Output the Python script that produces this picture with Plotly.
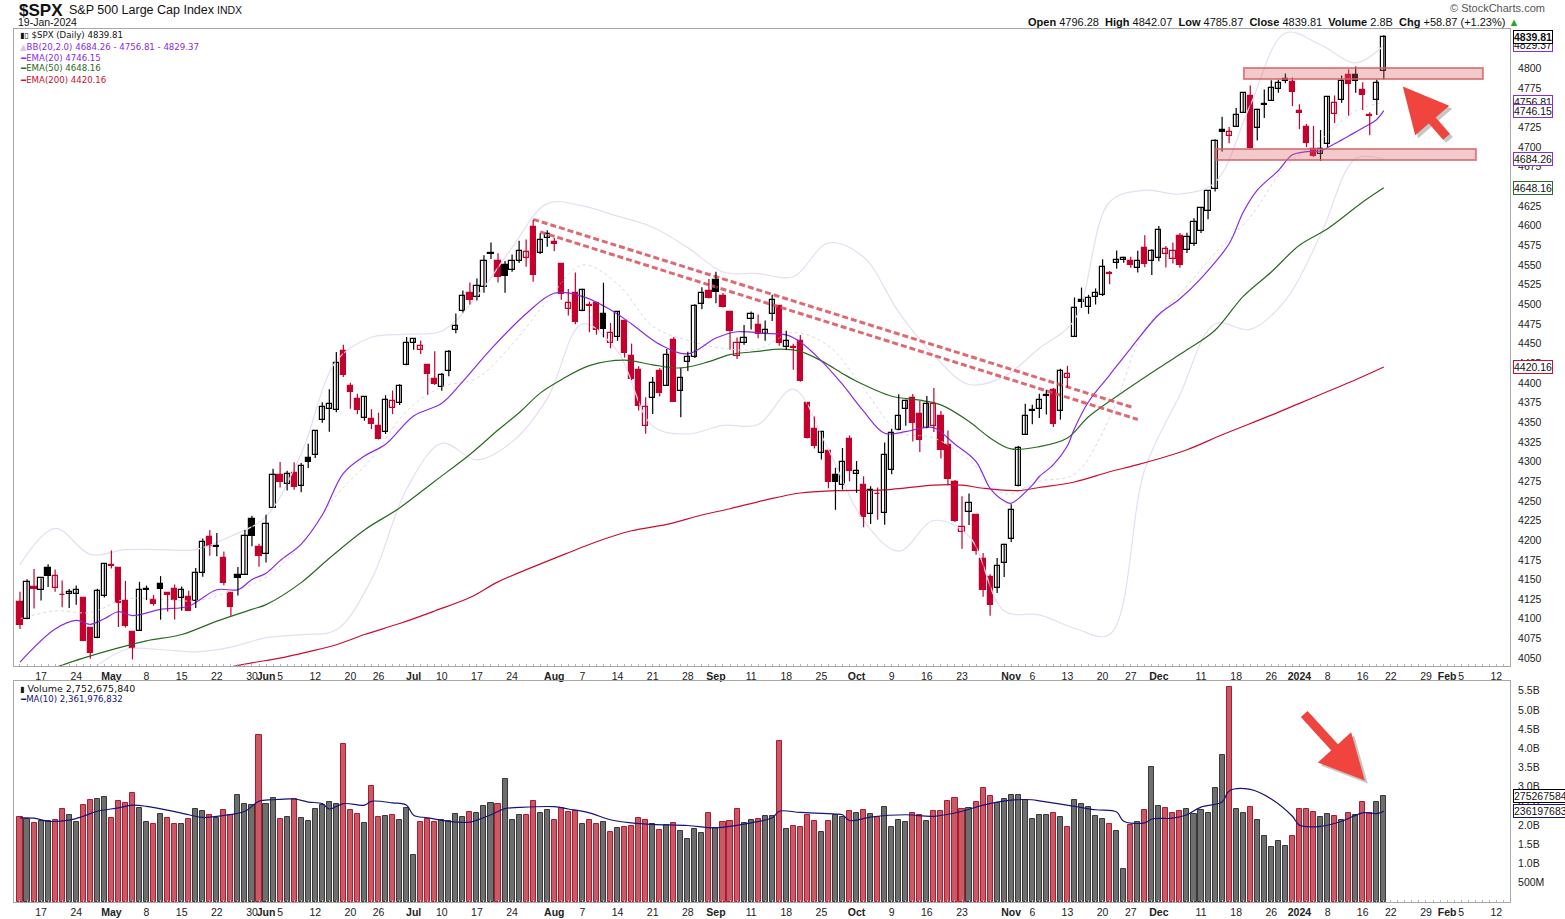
## $SPX daily candles with BB / EMAs and a volume panel (StockCharts look)
import numpy as np
import pandas as pd
import plotly.graph_objects as go

# Trading days from 12-Apr-2023, the axis runs on past the last bar
holidays = ["2023-05-29", "2023-06-19", "2023-07-04", "2023-09-04",
            "2023-11-23", "2023-12-25", "2024-01-01", "2024-01-15"]
tdays = pd.bdate_range("2023-04-12", "2024-02-16")
tdays = tdays[~tdays.isin(pd.to_datetime(holidays))]

prev_close0 = 4108.94  # close of 11-Apr-2023, only used for the colour of the first bar

opens = [
    # Apr
    4121.72, 4100.04, 4140.11, 4137.17, 4164.26, 4139.33, 4130.48, 4132.14, 4132.07, 4126.43, 4087.78, 4075.29, 4129.63,
    # May
    4166.79, 4164.10, 4122.25, 4082.61, 4084.73, 4136.98, 4124.25, 4143.74, 4132.24, 4138.54, 4126.65, 4127.95, 4122.85,
    4157.68, 4204.15, 4190.78, 4176.80, 4132.96, 4155.71, 4156.16, 4226.71, 4190.74,
    # Jun
    4183.03, 4241.01, 4282.99, 4271.61, 4285.47, 4268.69, 4304.88, 4308.32, 4352.61, 4366.29, 4365.33, 4440.95, 4396.11,
    4380.01, 4355.40, 4354.17, 4344.84, 4337.36, 4367.48, 4374.94, 4422.44,
    # Jul
    4450.48, 4442.04, 4422.62, 4404.54, 4394.23, 4415.55, 4467.69, 4491.50, 4514.61, 4508.86, 4521.78, 4563.87, 4554.38,
    4550.16, 4543.39, 4555.19, 4558.96, 4598.26, 4565.75, 4584.82,
    # Aug
    4578.83, 4550.93, 4494.27, 4513.96, 4491.58, 4498.03, 4501.57, 4487.16, 4450.69, 4458.13, 4478.87, 4433.79, 4416.32,
    4344.88, 4380.28, 4415.33, 4396.44, 4455.16, 4389.38, 4426.03, 4432.75, 4500.34, 4517.01,
    # Sep
    4530.60, 4510.06, 4490.35, 4434.55, 4451.30, 4480.98, 4473.27, 4462.65, 4487.78, 4497.98, 4445.13, 4445.41, 4452.81,
    4374.36, 4341.74, 4310.62, 4312.88, 4282.63, 4269.65, 4328.18,
    # Oct
    4284.52, 4269.75, 4233.83, 4259.31, 4234.79, 4289.02, 4339.75, 4366.59, 4380.94, 4360.49, 4342.37, 4345.23, 4357.35,
    4321.36, 4273.85, 4210.40, 4235.79, 4232.42, 4175.99, 4152.93, 4139.39, 4171.33,
    # Nov
    4201.27, 4268.26, 4334.23, 4364.27, 4366.21, 4384.37, 4391.41, 4364.15, 4406.66, 4458.97, 4505.30, 4497.08, 4509.55,
    4511.70, 4538.77, 4553.04, 4555.84, 4554.86, 4545.55, 4571.84, 4554.87,
    # Dec
    4559.43, 4564.37, 4557.25, 4586.23, 4568.84, 4576.20, 4593.39, 4618.30, 4646.20, 4721.04, 4714.23, 4725.58, 4743.72,
    4764.73, 4724.29, 4753.92, 4758.86, 4773.45, 4786.44, 4782.88,
    # Jan
    4745.20, 4725.07, 4697.42, 4690.57, 4703.70, 4741.93, 4759.94, 4792.13, 4791.18, 4772.35, 4739.13, 4760.10, 4796.28,
]
highs = [
    4134.37, 4150.26, 4163.19, 4151.72, 4169.48, 4162.57, 4148.57, 4138.02, 4142.41, 4126.43, 4089.67, 4138.24, 4170.06,
    4186.92, 4164.10, 4148.30, 4082.61, 4147.02, 4142.30, 4130.35, 4154.28, 4132.80, 4143.74, 4141.25, 4135.54, 4164.67,
    4202.20, 4212.91, 4209.22, 4185.68, 4132.96, 4165.74, 4212.87, 4231.10, 4195.44,
    4232.43, 4290.67, 4299.28, 4288.33, 4299.19, 4298.01, 4322.62, 4340.13, 4375.37, 4391.82, 4439.20, 4448.47, 4400.15,
    4386.22, 4382.25, 4366.55, 4362.06, 4384.42, 4390.35, 4398.39, 4458.48,
    4456.46, 4454.06, 4422.62, 4440.39, 4412.60, 4441.91, 4488.34, 4517.38, 4527.76, 4532.85, 4562.30, 4578.43, 4564.74,
    4555.00, 4563.41, 4580.62, 4582.47, 4607.07, 4590.16, 4594.22,
    4584.62, 4550.93, 4519.49, 4540.34, 4519.84, 4503.31, 4502.44, 4527.37, 4476.23, 4490.33, 4478.87, 4449.95, 4421.17,
    4381.82, 4407.55, 4418.59, 4443.18, 4458.30, 4418.46, 4439.56, 4500.14, 4521.65, 4532.26,
    4541.25, 4514.29, 4490.35, 4457.81, 4473.53, 4490.77, 4487.11, 4479.39, 4511.99, 4497.98, 4466.36, 4449.85, 4461.03,
    4375.70, 4357.40, 4338.51, 4313.01, 4292.07, 4317.27, 4333.15,
    4300.58, 4281.15, 4268.50, 4267.13, 4324.10, 4341.73, 4385.46, 4378.64, 4385.85, 4377.10, 4383.33, 4393.57, 4364.20,
    4339.54, 4276.56, 4255.84, 4259.38, 4232.42, 4183.60, 4156.70, 4177.47, 4195.55,
    4245.64, 4319.72, 4373.62, 4372.21, 4386.26, 4391.20, 4393.40, 4418.03, 4421.76, 4508.67, 4521.17, 4511.99, 4520.12,
    4557.11, 4542.14, 4568.43, 4560.31, 4560.52, 4568.14, 4587.64, 4569.89,
    4599.39, 4574.06, 4578.56, 4590.74, 4590.92, 4609.23, 4623.71, 4643.93, 4709.69, 4738.57, 4725.53, 4749.52, 4768.69,
    4778.01, 4748.71, 4772.94, 4784.72, 4785.39, 4793.30, 4788.43,
    4754.33, 4729.29, 4726.78, 4721.49, 4764.54, 4765.47, 4790.80, 4798.50, 4802.40, 4782.34, 4744.23, 4785.79, 4842.07,
]
lows = [
    4086.94, 4099.40, 4113.20, 4123.18, 4140.36, 4134.49, 4114.57, 4113.86, 4117.77, 4071.38, 4049.35, 4075.29, 4127.18,
    4164.12, 4089.72, 4088.86, 4048.28, 4084.73, 4123.81, 4116.65, 4098.92, 4109.29, 4099.12, 4110.27, 4109.86, 4113.62,
    4153.50, 4180.20, 4179.68, 4142.54, 4103.98, 4129.73, 4156.16, 4192.18, 4166.15,
    4171.64, 4241.01, 4266.82, 4263.09, 4263.96, 4261.07, 4291.70, 4304.37, 4349.31, 4337.85, 4362.60, 4407.44, 4367.19,
    4360.14, 4351.82, 4341.34, 4328.08, 4335.00, 4360.22, 4371.97, 4422.44,
    4442.29, 4436.61, 4385.05, 4397.40, 4389.92, 4408.46, 4463.23, 4489.36, 4499.56, 4504.90, 4514.59, 4557.48, 4527.56,
    4514.47, 4541.29, 4552.42, 4547.58, 4528.56, 4564.01, 4573.14,
    4567.53, 4505.75, 4485.54, 4474.55, 4491.15, 4464.39, 4461.33, 4457.92, 4443.98, 4453.44, 4432.19, 4403.55, 4364.83,
    4335.31, 4360.30, 4382.77, 4396.44, 4375.55, 4356.29, 4414.98, 4431.68, 4493.59, 4507.39,
    4501.35, 4496.01, 4442.38, 4430.46, 4448.38, 4467.89, 4456.83, 4453.52, 4478.69, 4447.21, 4442.11, 4416.61, 4401.38,
    4329.17, 4316.49, 4302.70, 4265.98, 4238.63, 4264.38, 4274.86,
    4260.21, 4216.45, 4220.48, 4225.91, 4219.55, 4283.79, 4339.64, 4345.34, 4325.43, 4311.97, 4342.37, 4337.54, 4303.84,
    4269.69, 4223.03, 4189.22, 4219.43, 4181.42, 4127.90, 4103.78, 4132.94, 4153.12,
    4197.74, 4268.26, 4334.23, 4347.53, 4355.41, 4359.76, 4343.94, 4353.34, 4393.82, 4458.97, 4495.31, 4487.83, 4499.66,
    4510.36, 4525.51, 4545.05, 4552.80, 4546.32, 4540.51, 4547.15, 4537.24,
    4554.71, 4546.72, 4551.68, 4546.50, 4565.22, 4574.06, 4590.74, 4608.09, 4643.23, 4694.34, 4704.69, 4725.58, 4743.72,
    4697.82, 4708.35, 4736.77, 4758.45, 4768.90, 4780.98, 4751.99,
    4722.67, 4699.71, 4687.53, 4682.11, 4699.82, 4730.35, 4756.20, 4739.58, 4768.98, 4747.12, 4714.82, 4740.57, 4785.87,
]
closes = [
    4091.95, 4146.22, 4137.64, 4151.32, 4154.87, 4154.52, 4129.79, 4133.52, 4137.04, 4071.63, 4055.99, 4135.35, 4169.48,
    4167.87, 4119.58, 4090.75, 4061.22, 4136.25, 4138.12, 4119.17, 4137.64, 4130.62, 4124.08, 4136.28, 4109.90, 4158.77,
    4198.05, 4191.98, 4192.63, 4145.58, 4115.24, 4151.28, 4205.45, 4205.52, 4179.83,
    4221.02, 4282.37, 4273.79, 4283.85, 4267.52, 4293.93, 4298.86, 4338.93, 4369.01, 4372.59, 4425.84, 4409.59, 4388.71,
    4365.69, 4381.89, 4348.33, 4328.82, 4378.41, 4376.86, 4396.44, 4450.38,
    4455.59, 4446.82, 4411.59, 4398.95, 4409.53, 4439.26, 4472.16, 4510.04, 4505.42, 4522.79, 4554.98, 4565.72, 4534.87,
    4536.34, 4554.64, 4567.46, 4566.75, 4537.41, 4582.23, 4588.96,
    4576.73, 4513.39, 4501.89, 4478.03, 4518.44, 4499.38, 4467.71, 4468.83, 4464.05, 4489.72, 4437.86, 4404.33, 4370.36,
    4369.71, 4399.77, 4387.55, 4436.01, 4376.31, 4405.71, 4433.31, 4497.63, 4514.87, 4507.66,
    4515.77, 4496.83, 4465.48, 4451.14, 4457.49, 4487.46, 4461.90, 4467.44, 4505.10, 4450.32, 4453.53, 4443.95, 4402.20,
    4330.00, 4320.06, 4337.44, 4273.53, 4274.51, 4299.70, 4288.05,
    4288.39, 4229.45, 4263.75, 4258.19, 4308.50, 4335.66, 4358.24, 4376.95, 4349.61, 4327.78, 4373.63, 4373.20, 4314.60,
    4278.00, 4224.16, 4217.04, 4247.68, 4186.77, 4137.23, 4117.37, 4166.82, 4193.80,
    4237.86, 4317.78, 4358.34, 4365.98, 4378.38, 4382.78, 4347.35, 4415.24, 4411.55, 4495.70, 4502.88, 4508.24, 4514.02,
    4547.38, 4538.19, 4556.62, 4559.34, 4550.43, 4554.89, 4550.58, 4567.80,
    4594.63, 4569.78, 4567.18, 4549.34, 4585.59, 4604.37, 4622.44, 4643.70, 4707.09, 4719.55, 4719.19, 4740.56, 4768.37,
    4698.35, 4746.75, 4754.63, 4774.75, 4781.58, 4783.35, 4769.83,
    4742.83, 4704.81, 4688.68, 4697.24, 4763.54, 4756.50, 4783.45, 4780.24, 4783.83, 4765.98, 4739.21, 4780.94, 4839.81,
]
# volume in billions of shares
volume_b = [
    2.22, 2.16, 2.06, 2.12, 2.11, 2.14, 2.42, 2.27, 2.09, 2.53, 2.66, 2.69, 2.72,
    2.19, 2.63, 2.58, 2.84, 2.45, 2.08, 2.03, 2.29, 2.19, 2.03, 2.03, 2.16, 2.42, 2.37, 2.27, 2.19, 2.40, 2.27, 2.79,
    2.55, 2.53, 4.35,
    2.55, 2.71, 2.16, 2.21, 2.68, 2.19, 2.11, 2.42, 2.53, 2.60, 2.55, 4.11, 2.40, 2.29, 2.06, 3.02, 2.21, 2.25, 2.27,
    2.14, 2.45,
    1.22, 2.08, 2.16, 2.08, 2.14, 2.11, 2.29, 2.21, 2.34, 2.32, 2.50, 2.58, 2.55, 3.21, 2.14, 2.27, 2.27, 2.63, 2.32, 2.40,
    2.14, 2.45, 2.34, 2.37, 2.03, 2.14, 2.03, 2.08, 1.82, 1.93, 1.95, 1.98, 2.19, 2.14, 2.03, 1.88, 2.01, 2.06, 1.85,
    1.64, 1.90, 1.80, 2.32,
    1.93, 2.08, 2.11, 2.42, 2.06, 2.14, 2.16, 2.24, 2.24, 4.19, 1.90, 1.98, 1.95, 2.27, 2.11, 1.82, 2.11, 2.27, 2.21, 2.37,
    2.32, 2.40, 2.29, 2.21, 2.47, 1.95, 2.14, 2.08, 2.32, 2.27, 2.11, 2.37, 2.37, 2.63, 2.71, 2.42, 2.45, 2.60, 2.97,
    2.76, 2.58, 2.68,
    2.79, 2.79, 2.66, 2.16, 2.27, 2.27, 2.32, 2.21, 1.95, 2.66, 2.55, 2.47, 2.24, 2.16, 2.03, 1.85, 0.86, 2.01, 2.08,
    2.40, 3.52,
    2.50, 2.45, 2.32, 2.37, 2.42, 2.29, 2.40, 2.32, 2.97, 3.83, 5.60, 2.42, 2.32, 2.47, 2.14, 1.72, 1.43, 1.59, 1.46, 1.72,
    2.42, 2.42, 2.34, 2.21, 2.29, 2.24, 2.14, 2.31, 2.26, 2.60, 2.31, 2.60, 2.75,
]

# overlays, x = trading day number (0 = 12-Apr-2023)
ema20_day = [0, 5, 8, 10, 12, 14, 16, 20, 24, 28, 31, 33, 35, 37, 40, 43, 46, 49, 52, 56, 60, 63, 67, 72, 76, 80, 84,
             87, 91, 95, 99, 102, 106, 109, 111, 114, 117, 120, 123, 126, 128, 130, 133, 136, 138, 140, 141, 144, 145,
             147, 149, 150, 152, 155, 158, 162, 165, 168, 172, 174, 176, 179, 181, 183, 185, 187, 189, 191, 193, 194]
ema20 = [4045, 4087, 4098, 4093, 4100, 4109, 4104, 4112, 4116, 4137, 4137, 4150, 4158, 4174, 4195, 4232, 4285, 4307,
         4322, 4358, 4374, 4402, 4443, 4488, 4514, 4510, 4493, 4475, 4449, 4437, 4457, 4465, 4463, 4461, 4452, 4428,
         4398, 4364, 4336, 4338, 4342, 4343, 4322, 4300, 4266, 4250, 4247, 4270, 4281, 4296, 4320, 4342, 4376, 4410,
         4444, 4487, 4507, 4533, 4577, 4617, 4645, 4670, 4690, 4694, 4695, 4704, 4714, 4724, 4735, 4746.15]
ema50_day = [5, 9, 14, 18, 23, 28, 33, 35, 40, 44, 49, 54, 59, 64, 68, 71, 74, 77, 81, 86, 90, 94, 98, 101, 105, 108,
             111, 114, 117, 119, 124, 128, 131, 135, 138, 141, 145, 149, 152, 157, 162, 166, 170, 174, 178, 182, 186,
             191, 194]
ema50 = [4038, 4050, 4063, 4072, 4080, 4097, 4112, 4118, 4146, 4177, 4213, 4241, 4275, 4309, 4340, 4362, 4387, 4404,
         4422, 4429, 4423, 4419, 4427, 4436, 4440, 4443, 4440, 4428, 4412, 4402, 4383, 4378, 4372, 4351, 4330, 4316,
         4319, 4330, 4357, 4389, 4419, 4442, 4467, 4510, 4541, 4575, 4596, 4630, 4648.16]
ema200_day = [26, 30, 33, 37, 41, 45, 49, 54, 59, 64, 68, 73, 78, 82, 87, 92, 97, 101, 106, 111, 116, 123, 130, 134,
              137, 142, 145, 150, 155, 159, 166, 171, 178, 182, 186, 190, 194]
ema200 = [4032, 4039, 4044, 4050, 4058, 4067, 4080, 4094, 4110, 4127, 4147, 4166, 4184, 4198, 4212, 4220, 4232, 4240,
          4251, 4260, 4263, 4264, 4270, 4270, 4266, 4263, 4267, 4274, 4287, 4296, 4315, 4334, 4359, 4374, 4389, 4404,
          4420.16]
bb_day = [0, 5, 10, 15, 20, 25, 30, 35, 40, 45, 50, 55, 60, 65, 70, 75, 80, 85, 90, 95, 100, 105, 110, 115, 120, 125,
          130, 135, 140, 145, 150, 155, 160, 165, 170, 175, 180, 185, 190, 194]
bb_upper = [4169, 4215, 4182, 4188, 4188, 4188, 4205, 4230, 4310, 4428, 4458, 4462, 4466, 4510, 4572, 4628, 4625, 4612,
            4598, 4572, 4541, 4539, 4535, 4578, 4560, 4490, 4435, 4398, 4408, 4444, 4480, 4630, 4645, 4640, 4655, 4753,
            4845, 4830, 4807, 4829.37]
bb_lower = [4030, 4005, 4035, 4061, 4061, 4058, 4064, 4076, 4080, 4086, 4150, 4265, 4323, 4302, 4325, 4380, 4475, 4440,
            4345, 4335, 4346, 4347, 4392, 4315, 4225, 4186, 4225, 4205, 4110, 4105, 4088, 4080, 4290, 4385, 4475, 4468,
            4505, 4588, 4685, 4684.26]
bb_mid = [4100, 4110, 4108, 4125, 4125, 4123, 4135, 4153, 4195, 4257, 4304, 4364, 4395, 4406, 4449, 4504, 4550, 4526,
          4472, 4454, 4444, 4443, 4464, 4447, 4393, 4338, 4330, 4302, 4259, 4275, 4284, 4355, 4468, 4513, 4565, 4611,
          4675, 4709, 4746, 4756.81]
vol_ma_day = [0, 2, 4, 7, 9, 11, 14, 16, 18, 21, 24, 26, 29, 32, 34, 36, 39, 41, 43, 44, 46, 49, 50, 53, 55, 56, 58,
              61, 64, 65, 67, 69, 71, 76, 78, 81, 84, 87, 90, 95, 99, 104, 107, 108, 111, 116, 117, 118, 121, 126, 130,
              134, 137, 141, 144, 145, 150, 153, 156, 157, 160, 161, 164, 166, 168, 171, 172, 175, 178, 181, 182, 185,
              188, 191, 193, 194]
vol_ma_b = [2.19, 2.18, 2.10, 2.13, 2.23, 2.36, 2.45, 2.52, 2.49, 2.39, 2.27, 2.20, 2.25, 2.36, 2.62, 2.66, 2.68, 2.60,
            2.56, 2.42, 2.56, 2.52, 2.62, 2.58, 2.52, 2.26, 2.19, 2.10, 2.08, 2.13, 2.27, 2.43, 2.46, 2.48, 2.42, 2.32,
            2.14, 2.06, 2.02, 1.99, 1.93, 2.06, 2.19, 2.36, 2.33, 2.29, 2.27, 2.12, 2.21, 2.27, 2.23, 2.36, 2.52, 2.65,
            2.66, 2.63, 2.49, 2.40, 2.34, 2.10, 2.06, 2.16, 2.18, 2.27, 2.47, 2.60, 2.89, 2.93, 2.68, 2.23, 2.00, 1.97,
            2.10, 2.32, 2.30, 2.362]

# hand-drawn annotations on the original chart
trend_upper_day, trend_upper_px = [73, 158.3], [4608, 4368.7]
trend_lower_day, trend_lower_px = [74, 159], [4592, 4353.5]
zone_top = dict(day0=174.1, day1=208.1, lo=4786.5, hi=4800.5)
zone_bottom = dict(day0=170.1, day1=207.1, lo=4683.5, hi=4697.5)
price_arrow = dict(day=196.7, value=4777)
volume_arrow = dict(day=191.3, value=3.16e9)

tick_dates = ["2023-04-17", "2023-04-24", "2023-05-01", "2023-05-08", "2023-05-15", "2023-05-22", "2023-05-30",
              "2023-06-01", "2023-06-05", "2023-06-12", "2023-06-20", "2023-06-26", "2023-07-03", "2023-07-10",
              "2023-07-17", "2023-07-24", "2023-08-01", "2023-08-07", "2023-08-14", "2023-08-21", "2023-08-28",
              "2023-09-01", "2023-09-11", "2023-09-18", "2023-09-25", "2023-10-02", "2023-10-09", "2023-10-16",
              "2023-10-23", "2023-11-01", "2023-11-06", "2023-11-13", "2023-11-20", "2023-11-27", "2023-12-01",
              "2023-12-11", "2023-12-18", "2023-12-26", "2024-01-02", "2024-01-08", "2024-01-16", "2024-01-22",
              "2024-01-29", "2024-02-01", "2024-02-05", "2024-02-12"]
tick_text = ["17", "24", "<b>May</b>", "8", "15", "22", "30", "<b>Jun</b>", "5", "12", "20", "26", "<b>Jul</b>", "10",
             "17", "24", "<b>Aug</b>", "7", "14", "21", "28", "<b>Sep</b>", "11", "18", "25", "<b>Oct</b>", "9", "16",
             "23", "<b>Nov</b>", "6", "13", "20", "27", "<b>Dec</b>", "11", "18", "26", "<b>2024</b>", "8", "16", "22",
             "29", "<b>Feb</b>", "5", "12"]

# ---- derived ----
opens, highs, lows, closes = map(np.array, (opens, highs, lows, closes))
n = len(closes)
x = np.arange(n)
day_no = {d.strftime("%Y-%m-%d"): i for i, d in enumerate(tdays)}
tickvals = [day_no[d] for d in tick_dates]
hover_dates = [d.strftime("%d-%b-%Y") for d in tdays[:n]]

RED = "#c4002d"
prev = np.r_[prev_close0, closes[:-1]]
up_day = closes >= prev
line_col = np.where(up_day, "#000000", RED)
fill_col = np.where(closes >= opens, "#ffffff", line_col)
body_base = np.minimum(opens, closes)
body_len = np.maximum(np.abs(closes - opens), 1.0)


def wick_xy(mask):
    xs, ys = [], []
    for i in np.where(mask)[0]:
        xs += [i, i, None]
        ys += [lows[i], highs[i], None]
    return xs, ys


fig = go.Figure()

# Bollinger bands (behind everything)
BAND = "#e6ddf3"
fig.add_trace(go.Scatter(x=bb_day, y=bb_upper, mode="lines", line=dict(color=BAND, width=1.2, shape="spline"),
                         hoverinfo="skip", showlegend=False))
fig.add_trace(go.Scatter(x=bb_day, y=bb_lower, mode="lines", line=dict(color=BAND, width=1.2, shape="spline"),
                         hoverinfo="skip", showlegend=False))
fig.add_trace(go.Scatter(x=bb_day, y=bb_mid, mode="lines", line=dict(color="#dcd6e8", width=1, dash="dot", shape="spline"),
                         hoverinfo="skip", showlegend=False))
# moving averages
fig.add_trace(go.Scatter(x=ema200_day, y=ema200, mode="lines", line=dict(color="#c8102e", width=1.2, shape="spline"),
                         hoverinfo="skip", showlegend=False))
fig.add_trace(go.Scatter(x=ema50_day, y=ema50, mode="lines", line=dict(color="#2a6a22", width=1.2, shape="spline"),
                         hoverinfo="skip", showlegend=False))
fig.add_trace(go.Scatter(x=ema20_day, y=ema20, mode="lines", line=dict(color="#8a2be2", width=1.2, shape="spline"),
                         hoverinfo="skip", showlegend=False))

# dashed trend lines
for tx, ty in ((trend_upper_day, trend_upper_px), (trend_lower_day, trend_lower_px)):
    fig.add_trace(go.Scatter(x=tx, y=ty, mode="lines", opacity=0.85,
                             line=dict(color="#d9505c", width=3, dash="6px,3px"),
                             hoverinfo="skip", showlegend=False))

# candle wicks, then bodies
for mask, col in ((up_day, "#000000"), (~up_day, RED)):
    wx, wy = wick_xy(mask)
    fig.add_trace(go.Scatter(x=wx, y=wy, mode="lines", line=dict(color=col, width=1.2),
                             hoverinfo="skip", showlegend=False))
fig.add_trace(go.Bar(x=x, y=body_len, base=body_base, width=0.74, textposition="none",
                     marker=dict(color=fill_col, line=dict(color=line_col, width=1.2)),
                     customdata=np.c_[opens, highs, lows, closes], hovertext=hover_dates,
                     hovertemplate="%{hovertext}<br>O %{customdata[0]}<br>H %{customdata[1]}"
                                   "<br>L %{customdata[2]}<br>C %{customdata[3]}<extra></extra>",
                     showlegend=False))

# volume panel
vol = np.array(volume_b) * 1e9
fig.add_trace(go.Bar(x=x, y=vol, width=0.72, xaxis="x2", yaxis="y2", textposition="none",
                     marker=dict(color=np.where(up_day, "#6e6e6e", "#c85a66"),
                                 line=dict(color=np.where(up_day, "#383838", "#b01a30"), width=1)),
                     hovertext=hover_dates, hovertemplate="%{hovertext}<br>%{y:,.0f}<extra></extra>",
                     showlegend=False))
fig.add_trace(go.Scatter(x=vol_ma_day, y=np.array(vol_ma_b) * 1e9, mode="lines", xaxis="x2", yaxis="y2",
                         line=dict(color="#14147a", width=1.2, shape="spline"), hoverinfo="skip", showlegend=False))

# ---- layout ----
W, H = 1565, 919
ML, MR, MT, MB = 14, 55, 29, 17
PW, PH = W - ML - MR, H - MT - MB


def px(v):
    return (v - ML) / PW


def py(v):
    return (H - MB - v) / PH


FONT = "Liberation Sans, Arial, sans-serif"
LEG = "DejaVu Sans, Verdana, sans-serif"
x_range = [-0.85, -0.85 + PW / 7.03]
xcommon = dict(range=x_range, tickmode="array", tickvals=tickvals, ticktext=tick_text, tickangle=0,
               automargin=False, showgrid=False, zeroline=False, showline=True, linecolor="#a8a8a8", mirror=True,
               ticks="", tickfont=dict(family=FONT, size=10.5, color="#222"),
               minor=dict(tickmode="linear", tick0=0, dtick=1, ticks="inside", ticklen=2, tickcolor="#b8b8b8"))
ycommon = dict(side="right", tickmode="array", automargin=False, showgrid=False, zeroline=False, showline=True,
               linecolor="#a8a8a8", mirror=True, ticks="", ticklabelstandoff=5,
               tickfont=dict(family=FONT, size=10.5, color="#222"))

fig.update_layout(
    width=W, height=H, margin=dict(l=ML, r=MR, t=MT, b=MB, autoexpand=False),
    paper_bgcolor="white", plot_bgcolor="white", barmode="overlay", bargap=0,
    font=dict(family=FONT, color="#222"), hovermode="closest",
    xaxis=dict(anchor="y", **xcommon),
    xaxis2=dict(anchor="y2", matches="x", **xcommon),
    yaxis=dict(domain=[py(666), 1], range=[4040, 4850], tickvals=list(range(4050, 4826, 25)), **ycommon),
    yaxis2=dict(domain=[0, py(681)], range=[0, 5.75e9], tickvals=[0.5e9 * k for k in range(1, 12)],
                ticktext=["500M", "1.0B", "1.5B", "2.0B", "2.5B", "3.0B", "3.5B", "4.0B", "4.5B", "5.0B", "5.5B"],
                **ycommon),
)

# support / resistance zones
for z in (zone_top, zone_bottom):
    fig.add_shape(type="rect", xref="x", yref="y", x0=z["day0"], x1=z["day1"], y0=z["lo"], y1=z["hi"],
                  fillcolor="rgba(214,96,100,0.33)", line=dict(color="rgba(214,96,100,0.75)", width=2),
                  layer="above")

ann = []
# header
ann.append(dict(x=px(17), y=py(10), text="<b>$SPX</b>", font=dict(size=17, color="#111")))
ann.append(dict(x=px(67), y=py(10), text="S&P 500 Large Cap Index", font=dict(size=12.5, color="#111")))
ann.append(dict(x=px(215), y=py(10), text="INDX", font=dict(size=10.5, color="#111")))
ann.append(dict(x=px(16), y=py(22), text="19-Jan-2024", font=dict(size=10.5, color="#111")))
ann.append(dict(x=px(1547), y=py(8), xanchor="right", text="© StockCharts.com", font=dict(size=11, color="#555")))
ann.append(dict(x=px(1521), y=py(22), xanchor="right",
                text="<b>Open</b> 4796.28  <b>High</b> 4842.07  <b>Low</b> 4785.87  <b>Close</b> 4839.81  "
                     "<b>Volume</b> 2.8B  <b>Chg</b> +58.87 (+1.23%) <span style='color:#2ca02c'>▲</span>",
                font=dict(size=11, color="#111")))
# price panel legend
legend_rows = [
    ("<span style='font-size:8px'>▮▯</span> $SPX (Daily) 4839.81", "#111"),
    ("<span style='color:#d9c8ee'>▲</span>BB(20,2.0) 4684.26 - 4756.81 - 4829.37", "#8a2be2"),
    ("━EMA(20) 4746.15", "#8a2be2"),
    ("━EMA(50) 4648.16", "#2a6a22"),
    ("━EMA(200) 4420.16", "#c8102e"),
]
for k, (txt, col) in enumerate(legend_rows):
    ann.append(dict(x=px(18), y=py(35.5 + 11 * k), text=txt, font=dict(family=LEG, size=8.6, color=col)))
ann.append(dict(x=px(18), y=py(688), text="<span style='font-size:8px'>▮</span> Volume 2,752,675,840",
                font=dict(family=LEG, size=9.5, color="#111")))
ann.append(dict(x=px(18), y=py(699), text="━MA(10) 2,361,976,832", font=dict(family=LEG, size=8.6, color="#14147a")))
for a in ann:
    a.update(xref="paper", yref="paper", showarrow=False, yanchor="middle", xanchor=a.get("xanchor", "left"))
    a["font"].setdefault("family", FONT)

# last-value tags on the right axis
tags = [(4829.37, "4829.37", "#8a2be2", "y"), (4839.81, "<b>4839.81</b>", "#000000", "y"),
        (4756.81, "4756.81", "#8a2be2", "y"), (4746.15, "4746.15", "#8a2be2", "y"),
        (4684.26, "4684.26", "#8a2be2", "y"), (4648.16, "4648.16", "#2a6a22", "y"),
        (4420.16, "4420.16", "#c8102e", "y"),
        (2.752675840e9, "2752675840", "#000000", "y2"), (2.361976832e9, "2361976832", "#14147a", "y2")]
for val, txt, col, yr in tags:
    ann.append(dict(x=1, xref="paper", xanchor="left", xshift=3, y=val, yref=yr, yanchor="middle", text=txt,
                    showarrow=False, font=dict(family=FONT, size=10.5, color="#111"), bgcolor="white",
                    bordercolor=col, borderwidth=1, borderpad=0))

# red call-out arrows (with a soft shadow)
for ar, yr, dx, dy in ((price_arrow, "y", 45, 52), (volume_arrow, "y2", -62, -68)):
    for shadow in (True, False):
        ann.append(dict(x=ar["day"], y=ar["value"], xref="x", yref=yr, ax=dx, ay=dy, text="", showarrow=True,
                        arrowhead=2, arrowsize=1.0, arrowwidth=9,
                        arrowcolor="rgba(0,0,0,0.22)" if shadow else "#f0443f",
                        xshift=3 if shadow else 0, yshift=-3 if shadow else 0))

fig.update_layout(annotations=ann)

fig.write_html("out.html", config={"displayModeBar": False},
               post_script="document.body.style.margin='0';")
